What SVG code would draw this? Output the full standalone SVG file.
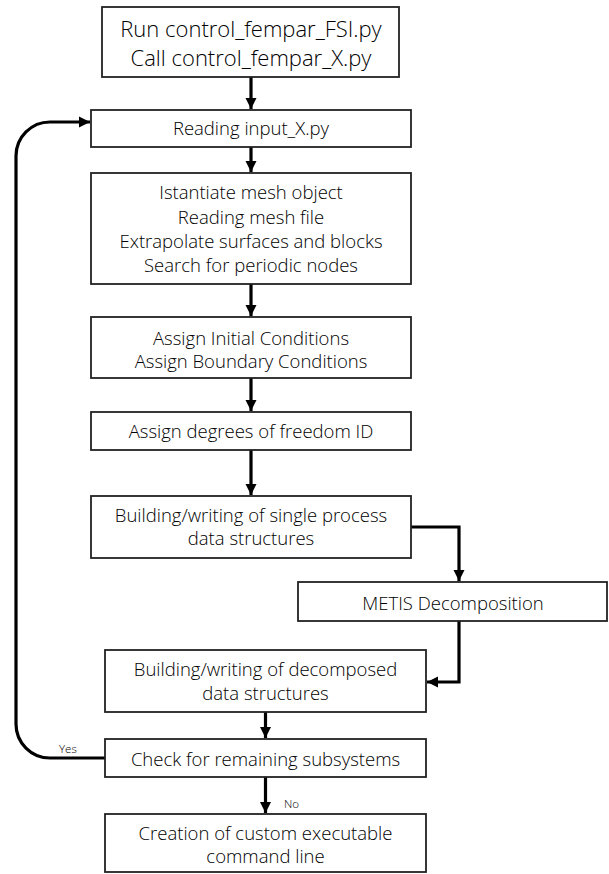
<svg xmlns="http://www.w3.org/2000/svg" width="609" height="874" viewBox="0 0 609 874">
  <defs>
    <marker id="arrow" markerUnits="userSpaceOnUse" markerWidth="12" markerHeight="12" viewBox="0 0 12 12" refX="11" refY="6" orient="auto">
      <path d="M0,0.5 L11,6 L0,11.5 Z" fill="#000"/>
    </marker>
    <style>
      .box { fill: #fff; stroke: #222; stroke-width: 1.8; }
      .lbl { font-family: "Open Sans", "Liberation Sans", sans-serif; font-weight: 350; font-size: 18.5px; fill: #000; text-anchor: middle; }
      .big { font-size: 22px; }
      .tag { font-family: "Open Sans", "Liberation Sans", sans-serif; font-weight: 350; font-size: 11.5px; fill: #000; }
      .edge { fill: none; stroke: #000; stroke-width: 3.2; }
    </style>
  </defs>
  <rect width="609" height="874" fill="#fff"/>

  <!-- connectors -->
  <g id="connectors">
    <path class="edge" d="M251,77 V109" marker-end="url(#arrow)"/>
    <path class="edge" d="M251,147 V172" marker-end="url(#arrow)"/>
    <path class="edge" d="M251,284 V316" marker-end="url(#arrow)"/>
    <path class="edge" d="M251,378 V411" marker-end="url(#arrow)"/>
    <path class="edge" d="M251,450 V495" marker-end="url(#arrow)"/>
    <path class="edge" d="M411,527 H459 V581" marker-end="url(#arrow)"/>
    <path class="edge" d="M459,621 V682 H427" marker-end="url(#arrow)"/>
    <path class="edge" d="M265.5,712 V738" marker-end="url(#arrow)"/>
    <path class="edge" d="M265.5,777 V813" marker-end="url(#arrow)"/>
    <path class="edge" d="M105,758 H50 A34,34 0 0 1 16,724 V156 A34,34 0 0 1 50,122 H90" marker-end="url(#arrow)"/>
    <text class="tag" x="59" y="753">Yes</text>
    <text class="tag" x="284" y="808">No</text>
  </g>

  <g id="run-control">
    <rect class="box" x="102" y="7" width="297" height="70"/>
    <text class="lbl big" x="251" y="37">Run control_fempar_FSI.py</text>
    <text class="lbl big" x="251" y="66">Call control_fempar_X.py</text>
  </g>

  <g id="reading-input">
    <rect class="box" x="91" y="110" width="320" height="37"/>
    <text class="lbl" x="251" y="135">Reading input_X.py</text>
  </g>

  <g id="mesh">
    <rect class="box" x="91" y="173" width="320" height="111"/>
    <text class="lbl" x="251" y="199">Istantiate mesh object</text>
    <text class="lbl" x="251" y="224">Reading mesh file</text>
    <text class="lbl" x="251" y="248">Extrapolate surfaces and blocks</text>
    <text class="lbl" x="251" y="272">Search for periodic nodes</text>
  </g>

  <g id="conditions">
    <rect class="box" x="91" y="317" width="320" height="61"/>
    <text class="lbl" x="251" y="345">Assign Initial Conditions</text>
    <text class="lbl" x="251" y="368">Assign Boundary Conditions</text>
  </g>

  <g id="dof">
    <rect class="box" x="91" y="412" width="320" height="38"/>
    <text class="lbl" x="251" y="438">Assign degrees of freedom ID</text>
  </g>

  <g id="single-process">
    <rect class="box" x="91" y="496" width="320" height="62"/>
    <text class="lbl" x="251" y="522">Building/writing of single process</text>
    <text class="lbl" x="251" y="545">data structures</text>
  </g>

  <g id="metis">
    <rect class="box" x="298" y="582" width="309" height="39"/>
    <text class="lbl" x="453" y="610">METIS Decomposition</text>
  </g>

  <g id="decomposed">
    <rect class="box" x="105" y="650" width="321" height="62"/>
    <text class="lbl" x="265.5" y="676">Building/writing of decomposed</text>
    <text class="lbl" x="265.5" y="700">data structures</text>
  </g>

  <g id="check-subsystems">
    <rect class="box" x="105" y="739" width="321" height="38"/>
    <text class="lbl" x="265.5" y="766">Check for remaining subsystems</text>
  </g>

  <g id="command-line">
    <rect class="box" x="105" y="814" width="321" height="58"/>
    <text class="lbl" x="265.5" y="840">Creation of custom executable</text>
    <text class="lbl" x="265.5" y="863">command line</text>
  </g>
</svg>
